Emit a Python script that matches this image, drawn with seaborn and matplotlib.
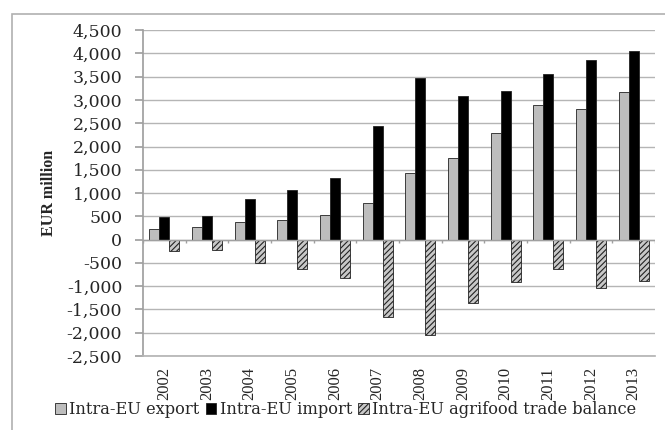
"""Intra-EU agrifood trade: export, import and balance, 2002-2013."""

import matplotlib.pyplot as plt
import matplotlib.patches as mpatches
import pandas as pd
import seaborn as sns
from matplotlib.ticker import FuncFormatter, MultipleLocator

years = ["2002", "2003", "2004", "2005", "2006", "2007",
         "2008", "2009", "2010", "2011", "2012", "2013"]
export = [220, 270, 380, 430, 520, 790, 1430, 1750, 2280, 2900, 2810, 3170]
imports = [480, 510, 880, 1070, 1330, 2440, 3480, 3090, 3200, 3560, 3850, 4050]
balance = [-250, -215, -505, -640, -815, -1670, -2040, -1370, -920, -640, -1045, -880]

series_names = ["Intra-EU export", "Intra-EU import", "Intra-EU agrifood trade balance"]
colors = ["#bdbdbd", "#000000", "#c8c8c8"]

sns.set_theme(style="white")
plt.rcParams["font.family"] = ["Liberation Serif", "DejaVu Serif"]
plt.rcParams["hatch.color"] = "#555555"
plt.rcParams["hatch.linewidth"] = 0.8

df = pd.DataFrame({
    "year": years * 3,
    "value": export + imports + balance,
    "series": [s for s in series_names for _ in years],
})

fig = plt.figure(figsize=(6.65, 4.3), dpi=100)
ax = fig.add_axes([0.215, 0.172, 0.770, 0.758])

sns.barplot(data=df, x="year", y="value", hue="series", hue_order=series_names,
            palette=colors, width=0.7, edgecolor="#222222", linewidth=0.6,
            errorbar=None, legend=False, ax=ax, zorder=3)

n = len(years)
for i, patch in enumerate(ax.patches):
    if i >= 2 * n:
        patch.set_hatch("//////")

ax.set_ylim(-2500, 4500)
ax.set_xlim(-0.5, n - 0.5)
ax.yaxis.set_major_locator(MultipleLocator(500))
ax.yaxis.set_major_formatter(FuncFormatter(lambda v, _: f"{v:,.0f}"))
ax.grid(axis="y", color="#b5b5b5", linewidth=1.0, zorder=0)
ax.axhline(0, color="#a0a0a0", linewidth=1.0, zorder=4)
ax.vlines([i + 0.5 for i in range(-1, n)], -70, 0, color="#a0a0a0", linewidth=1.0, zorder=4)

for side in ["top", "right"]:
    ax.spines[side].set_visible(False)
ax.spines["left"].set_color("#a0a0a0")
ax.spines["bottom"].set_color("#b5b5b5")
ax.tick_params(axis="y", left=True, length=6, color="#a0a0a0", pad=9)
ax.tick_params(axis="x", bottom=False, length=0, labelsize=12, rotation=90, pad=8)
for label in ax.get_yticklabels():
    label.set_fontfamily("DejaVu Serif")
    label.set_fontsize(12.5)
ax.set_xlabel("")
ax.set_ylabel("EUR million", fontsize=11.5, fontweight="bold", labelpad=7)

handles = [mpatches.Patch(facecolor=c, edgecolor="#222222", linewidth=0.6) for c in colors]
handles[2].set_hatch("//////")
fig.legend(handles, series_names, loc="center", bbox_to_anchor=(0.52, 0.047), ncol=3,
           frameon=False, prop={"family": "DejaVu Serif", "size": 11.7},
           handlelength=0.65, handleheight=0.65, handletextpad=0.2, columnspacing=0.4)

border = mpatches.Rectangle((12 / 665, -0.1), 1.2, (430 - 14) / 430 + 0.1,
                            transform=fig.transFigure, fill=False,
                            edgecolor="#b0b0b0", linewidth=1.2)
fig.patches.append(border)

fig.savefig("out.png", dpi=100)
plt.close(fig)
